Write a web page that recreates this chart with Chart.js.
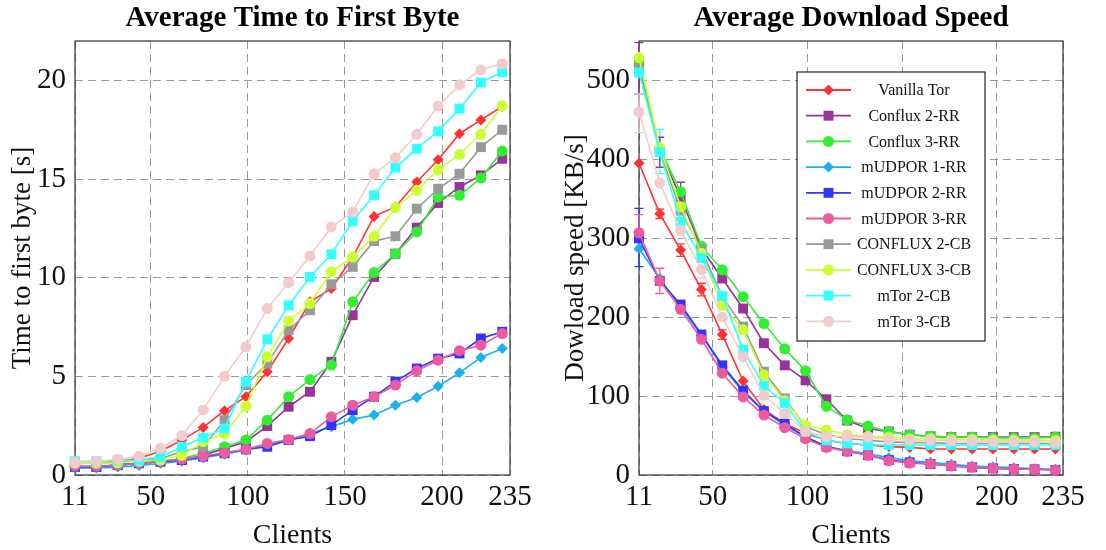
<!DOCTYPE html>
<html>
<head>
<meta charset="utf-8">
<script src="https://cdn.jsdelivr.net/npm/chart.js@4.4.0/dist/chart.umd.min.js"></script>
<style>
  body { margin: 0; background: #fff; width: 1106px; height: 550px; overflow: hidden; }
  .panel { position: absolute; top: 0; width: 553px; height: 550px; }
</style>
</head>
<body>
<div class="panel" style="left:0"><canvas id="ttfbChart" width="553" height="550"></canvas></div>
<div class="panel" style="left:553px"><canvas id="speedChart" width="553" height="550"></canvas></div>
<script>
// clients per run and the tick labels of each axis
const clients = [11, 22, 33, 44, 55, 66, 77, 88, 99, 110, 121, 132, 143, 154, 165, 176, 187, 198, 209, 220, 231];
const clientTicks = [11, 50, 100, 150, 200, 235];
const ttfbTicks = [0, 5, 10, 15, 20];
const speedTicks = [0, 100, 200, 300, 400, 500];

const seriesNames = ['Vanilla Tor', 'Conflux 2-RR', 'Conflux 3-RR', 'mUDPOR 1-RR', 'mUDPOR 2-RR',
    'mUDPOR 3-RR', 'CONFLUX 2-CB', 'CONFLUX 3-CB', 'mTor 2-CB', 'mTor 3-CB'];

// Average time to first byte (s)
const ttfbVanillaTor = [0.6, 0.6, 0.68, 0.85, 1.2, 1.77, 2.41, 3.26, 3.97, 5.23, 6.92, 8.78, 9.45, 11.05, 13.11, 13.59, 14.85, 15.98, 17.3, 18.0, 18.68];
const ttfbConflux2RR = [0.42, 0.42, 0.5, 0.6, 0.68, 0.76, 1.0, 1.35, 1.69, 2.48, 3.46, 4.22, 5.74, 8.1, 10.04, 11.22, 12.54, 13.79, 14.6, 15.19, 16.03];
const ttfbConflux3RR = [0.42, 0.42, 0.5, 0.6, 0.68, 0.84, 1.1, 1.43, 1.77, 2.78, 3.97, 4.84, 5.57, 8.78, 10.26, 11.22, 12.32, 14.09, 14.18, 15.05, 16.42];
const ttfbMudpor1RR = [0.34, 0.36, 0.4, 0.48, 0.58, 0.7, 0.88, 1.05, 1.27, 1.52, 1.77, 2.1, 2.45, 2.82, 3.04, 3.54, 3.93, 4.5, 5.18, 5.96, 6.41];
const ttfbMudpor2RR = [0.42, 0.42, 0.5, 0.6, 0.68, 0.76, 0.93, 1.1, 1.3, 1.43, 1.77, 1.97, 2.53, 3.29, 3.97, 4.73, 5.4, 5.9, 6.16, 6.92, 7.26];
const ttfbMudpor3RR = [0.45, 0.45, 0.5, 0.6, 0.7, 0.8, 0.96, 1.13, 1.3, 1.6, 1.8, 2.1, 2.95, 3.54, 3.97, 4.56, 5.28, 5.82, 6.3, 6.58, 7.17];
const ttfbConflux2CB = [0.6, 0.6, 0.65, 0.72, 0.84, 1.18, 1.43, 2.78, 4.56, 5.65, 7.34, 8.35, 9.67, 10.55, 11.86, 12.1, 13.5, 14.51, 15.27, 16.62, 17.5];
const ttfbConflux3CB = [0.6, 0.6, 0.62, 0.7, 0.76, 1.0, 1.69, 2.08, 3.49, 5.99, 7.81, 8.69, 10.3, 11.05, 12.1, 13.55, 14.43, 15.48, 16.25, 17.27, 18.72];
const ttfbMtor2CB = [0.7, 0.7, 0.75, 0.75, 0.93, 1.43, 1.9, 2.36, 4.73, 6.87, 8.6, 10.04, 11.19, 12.88, 14.18, 15.58, 16.54, 17.42, 18.57, 19.9, 20.42];
const ttfbMtor3CB = [0.64, 0.7, 0.8, 0.95, 1.35, 2.0, 3.3, 5.0, 6.5, 8.44, 9.75, 11.1, 12.57, 13.33, 15.27, 16.08, 17.27, 18.7, 19.78, 20.54, 20.84];

// Average download speed (KB/s)
const speedVanillaTor = [395, 331, 285, 235, 178, 119, 83, 65, 53, 44, 40, 38, 36, 35, 33, 33, 33, 33, 33, 33, 33];
const speedConflux2RR = [521, 411, 352, 287, 249, 211, 167, 139, 120, 96, 69, 59, 55, 51, 49, 48, 48, 48, 48, 48, 48.5];
const speedConflux3RR = [520, 413, 359, 290, 260, 226, 192, 160, 132, 87, 70, 62, 55, 51, 49, 48, 48, 47, 47, 47, 48];
const speedMudpor1RR = [287, 249, 213, 177, 137, 105, 81, 63, 48.5, 36, 31, 27, 22, 18, 16, 13.5, 11.4, 10.5, 9.3, 8, 7.2];
const speedMudpor2RR = [300, 246, 216, 178, 139, 107, 81, 65, 48, 36, 30, 25, 19, 16, 14, 11.4, 9.7, 8.4, 7.6, 7.2, 6.3];
const speedMudpor3RR = [307, 246, 210, 172, 129, 99, 76, 60, 46, 35, 30, 25, 18, 15, 14, 11.4, 9.7, 8.4, 7.6, 7.2, 6.3];
const speedConflux2CB = [515, 411, 335, 285, 226, 188, 131, 97, 61, 51, 46, 44, 42, 41, 41, 40, 40, 40, 40, 40, 40];
const speedConflux3CB = [529, 415, 340, 281, 215, 184, 127, 94, 63, 57, 51, 49, 48, 46, 46, 45, 45, 44, 44, 44, 44];
const speedMtor2CB = [510, 409, 321, 275, 227, 159, 113, 91, 55, 44, 40, 38, 38, 38, 38, 38, 38, 38, 38, 38, 38];
const speedMtor3CB = [460, 370, 310, 260, 200, 150, 101, 78, 55, 49, 49, 48, 45, 44, 44, 43, 43, 42, 42, 42, 41];

// error bars visible on the download chart: [series, clients, low, high]
const speedErrors = [
    ['Conflux 2-RR', 11, 483, 548], ['mTor 3-CB', 11, 434, 483], ['mUDPOR 2-RR', 11, 264, 338],
    ['mUDPOR 3-RR', 11, 285, 330], ['mTor 2-CB', 22, 382, 438], ['Conflux 2-RR', 22, 390, 428],
    ['mUDPOR 3-RR', 22, 230, 262], ['Conflux 2-RR', 33, 335, 371], ['Vanilla Tor', 22, 325, 337],
    ['Vanilla Tor', 33, 277, 293], ['Vanilla Tor', 44, 227, 243], ['mTor 3-CB', 44, 250, 270],
    ['Vanilla Tor', 55, 172, 184]
];

const ttfbSeries = [ttfbVanillaTor, ttfbConflux2RR, ttfbConflux3RR, ttfbMudpor1RR, ttfbMudpor2RR,
    ttfbMudpor3RR, ttfbConflux2CB, ttfbConflux3CB, ttfbMtor2CB, ttfbMtor3CB];
const speedSeries = [speedVanillaTor, speedConflux2RR, speedConflux3RR, speedMudpor1RR, speedMudpor2RR,
    speedMudpor3RR, speedConflux2CB, speedConflux3CB, speedMtor2CB, speedMtor3CB];

const seriesColors = ['#ff3333', '#993399', '#33ee33', '#1ab0ee', '#3333ff',
    '#ee5aa0', '#999999', '#ccff33', '#33ffff', '#f2cccc'];
const seriesMarkers = ['rectRot', 'rect', 'circle', 'rectRot', 'rect', 'circle', 'rect', 'circle', 'rect', 'circle'];

const serif = "'Liberation Serif', 'DejaVu Serif', serif";

function markerRadius(style) {
    if (style === 'rect') return 7;
    return 5.5;
}

function buildDatasets(series) {
    return series.map((values, i) => ({
        label: seriesNames[i],
        data: values.map((v, j) => ({ x: clients[j], y: v })),
        borderColor: seriesColors[i],
        backgroundColor: seriesColors[i],
        pointBackgroundColor: seriesColors[i],
        pointBorderColor: seriesColors[i],
        pointStyle: seriesMarkers[i],
        pointRadius: markerRadius(seriesMarkers[i]),
        pointBorderWidth: 0,
        borderWidth: 1.6,
        tension: 0,
        clip: false,
        order: series.length - i // later series drawn on top
    }));
}

// frame around the plot area
const frameBox = {
    id: 'frameBox',
    beforeDatasetsDraw(chart) {
        const a = chart.chartArea;
        const ctx = chart.ctx;
        ctx.save();
        ctx.strokeStyle = '#333';
        ctx.lineWidth = 1.2;
        ctx.strokeRect(a.left, a.top, a.right - a.left, a.bottom - a.top);
        ctx.restore();
    }
};

// title centred over the plot area rather than the whole canvas
const areaTitle = {
    id: 'areaTitle',
    afterDraw(chart, args, opts) {
        const a = chart.chartArea;
        const ctx = chart.ctx;
        ctx.save();
        ctx.font = 'bold 29px ' + serif;
        ctx.fillStyle = '#000';
        ctx.textAlign = 'center';
        ctx.textBaseline = 'alphabetic';
        ctx.fillText(opts.text, (a.left + a.right) / 2, 26);
        ctx.restore();
    }
};

// error bars from speedErrors
const errorBars = {
    id: 'errorBars',
    beforeDatasetsDraw(chart, args, opts) {
        if (!opts.items) return;
        const ctx = chart.ctx;
        const xs = chart.scales.x, ys = chart.scales.y;
        ctx.save();
        ctx.lineWidth = 1.3;
        opts.items.forEach(([name, c, lo, hi]) => {
            const idx = seriesNames.indexOf(name);
            const x = xs.getPixelForValue(c);
            const y1 = ys.getPixelForValue(lo), y2 = ys.getPixelForValue(hi);
            ctx.strokeStyle = seriesColors[idx];
            ctx.beginPath();
            ctx.moveTo(x, y1); ctx.lineTo(x, y2);
            ctx.moveTo(x - 4.5, y1); ctx.lineTo(x + 4.5, y1);
            ctx.moveTo(x - 4.5, y2); ctx.lineTo(x + 4.5, y2);
            ctx.stroke();
        });
        ctx.restore();
    }
};

// legend box drawn inside the plot area
const boxLegend = {
    id: 'boxLegend',
    afterDraw(chart, args, opts) {
        if (!opts.show) return;
        const a = chart.chartArea;
        const ctx = chart.ctx;
        const left = a.left + opts.left, top = a.top + opts.top;
        ctx.save();
        ctx.fillStyle = '#fff';
        ctx.fillRect(left, top, opts.width, opts.height);
        ctx.strokeStyle = '#222';
        ctx.lineWidth = 1.2;
        ctx.strokeRect(left, top, opts.width, opts.height);
        ctx.font = '16px ' + serif;
        ctx.textAlign = 'center';
        ctx.textBaseline = 'middle';
        chart.data.datasets.forEach((ds, i) => {
            const y = top + 18 + i * opts.rowGap;
            ctx.strokeStyle = ds.borderColor;
            ctx.lineWidth = 1.8;
            ctx.beginPath();
            ctx.moveTo(left + 9, y);
            ctx.lineTo(left + 54, y);
            ctx.stroke();
            ctx.fillStyle = ds.borderColor;
            Chart.helpers.drawPoint(ctx, { pointStyle: ds.pointStyle, radius: ds.pointRadius, rotation: 0, borderWidth: 0 }, left + 31.5, y);
            ctx.fillStyle = '#111';
            ctx.fillText(ds.label, left + 117, y + 1);
        });
        ctx.restore();
    }
};

function makeChart(canvasId, series, title, yTitle, yMax, yTicks, yAxisWidth, legendOn) {
    const ctx = document.getElementById(canvasId).getContext('2d');
    return new Chart(ctx, {
        type: 'line',
        data: { datasets: buildDatasets(series) },
        plugins: [frameBox, errorBars, boxLegend, areaTitle],
        options: {
            responsive: false,
            animation: false,
            layout: { padding: { left: 0, right: 43, top: 41, bottom: 0 } },
            scales: {
                x: {
                    type: 'linear',
                    min: 11,
                    max: 235,
                    afterBuildTicks: (scale) => { scale.ticks = clientTicks.map(v => ({ value: v })); },
                    afterFit: (scale) => { scale.height = 75; },
                    grid: { color: '#999', lineWidth: 1, drawTicks: false },
                    border: { display: false, dash: [8, 5] },
                    ticks: { color: '#111', font: { family: serif, size: 29 }, padding: 5, maxRotation: 0, autoSkip: false },
                    title: { display: true, text: 'Clients', color: '#111', font: { family: serif, size: 28, lineHeight: 1.0 }, padding: 0 }
                },
                y: {
                    min: 0,
                    max: yMax,
                    afterBuildTicks: (scale) => { scale.ticks = yTicks.map(v => ({ value: v })); },
                    afterFit: (scale) => { scale.width = yAxisWidth; },
                    grid: { color: '#999', lineWidth: 1, drawTicks: false },
                    border: { display: false, dash: [8, 5] },
                    ticks: { color: '#111', font: { family: serif, size: 29 }, padding: 9 },
                    title: { display: true, text: yTitle, color: '#111', font: { family: serif, size: 27, lineHeight: 1.2 }, padding: { top: 7, bottom: 0 } }
                }
            },
            plugins: {
                legend: { display: false },
                tooltip: { enabled: false },
                title: { display: false },
                areaTitle: { text: title },
                errorBars: { items: legendOn ? speedErrors : null },
                boxLegend: { show: legendOn, left: 158, top: 31, width: 188, height: 269, rowGap: 25.7 }
            }
        }
    });
}

makeChart('ttfbChart', ttfbSeries, 'Average Time to First Byte', 'Time to first byte [s]', 22, ttfbTicks, 75, false);
makeChart('speedChart', speedSeries, 'Average Download Speed', 'Dowload speed [KB/s]', 550, speedTicks, 86, true);
</script>
</body>
</html>
